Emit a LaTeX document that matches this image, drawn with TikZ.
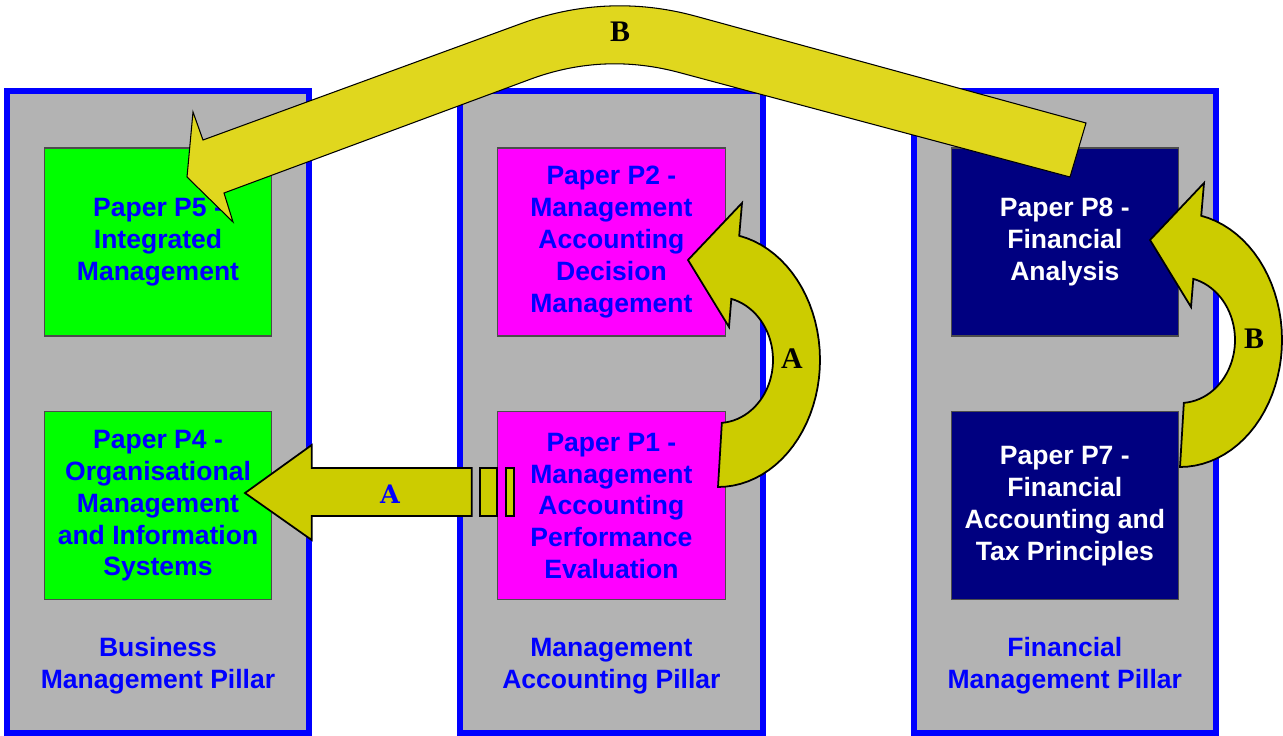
\documentclass[tikz,border=0pt]{standalone}
\usepackage{fontspec}
\setmainfont{Liberation Sans}
\newfontfamily\timesbold{Liberation Serif}
\newfontfamily\slabbold{DejaVu Serif}
\usetikzlibrary{positioning}
\usepackage{xcolor}

\definecolor{pillargray}{RGB}{179,179,179}
\definecolor{arrowolive}{RGB}{204,204,0}
\definecolor{arrowyellow}{RGB}{224,215,30}
\definecolor{papergreen}{RGB}{0,255,0}
\definecolor{papermagenta}{RGB}{255,0,255}
\definecolor{papernavy}{RGB}{0,0,128}

\begin{document}
\begin{tikzpicture}[x=0.02cm, y=-0.02cm, node distance=9.07cm, thick]

	% Define style for pillars
	\tikzstyle{pillar} = [rectangle, draw=blue, line width=3.4pt, fill=pillargray,
						minimum width=6.05cm, minimum height=12.85cm, inner sep=0pt]

	% Define style for paper boxes
	\tikzstyle{paperbox} = [rectangle, draw=black!70, line width=0.6pt,
						minimum width=4.55cm, minimum height=3.76cm, inner sep=0pt,
						align=center, font=\bfseries\fontsize{15.1}{18.1}\selectfont]
	\tikzstyle{pillarname} = [align=center, text=blue,
						font=\bfseries\fontsize{15.1}{18.1}\selectfont]

	% Define style for block arrows
	\tikzstyle{blockarrow} = [draw=black, line width=1pt, fill=arrowolive]
	\tikzstyle{arrowtext} = [font=\timesbold\bfseries\fontsize{17}{17}\selectfont]

	\useasboundingbox (0,0) rectangle (1283,736);

	% Place pillars
	\node [pillar] (bmp) at (158,411.75) {};
	\node [pillar, right of=bmp] (map) {};
	\node [pillar, right of=map] (fmp) {};

	\node [pillarname] (bmpname) at (158,666) {Business\\Management Pillar};
	\node [pillarname, right of=bmpname] (mapname) {Management\\Accounting Pillar};
	\node [pillarname, right of=mapname] (fmpname) {Financial\\Management Pillar};

	% Place papers
	\node [paperbox, fill=papergreen, text=blue] (p5) at (158,242)
		{Paper P5 -\\Integrated\\Management};
	\node [paperbox, fill=papermagenta, text=blue, right of=p5] (p2)
		{Paper P2 -\\Management\\Accounting\\Decision\\Management};
	\node [paperbox, fill=papernavy, text=white, right of=p2] (p8)
		{Paper P8 -\\Financial\\Analysis};
	\node [paperbox, fill=papergreen, text=blue, below of=p5, node distance=5.28cm] (p4)
		{Paper P4 -\\Organisational\\Management\\and Information\\Systems};
	\node [paperbox, fill=papermagenta, text=blue, right of=p4] (p1)
		{Paper P1 -\\Management\\Accounting\\Performance\\Evaluation};
	\node [paperbox, fill=papernavy, text=white, right of=p1] (p7)
		{Paper P7 -\\Financial\\Accounting and\\Tax Principles};

	% Long arrow B from P8 over the top to P5
	\filldraw [draw=black, line width=0.6pt, fill=arrowyellow]
		(1086,123) -- (695,16) .. controls (636,0) and (577,3) .. (520,24)
		-- (203,140) -- (193,112) -- (187,177) -- (233,222) -- (224,193)
		-- (531,79) .. controls (580,61) and (630,59) .. (681,73)
		-- (1070,177) -- cycle;
	\node [arrowtext] (topB) at (620,32) {B};

	% Curved arrows P1 to P2 and P7 to P8
	\foreach \cx/\cy/\name in {718/360/A, 1180/340/B} {
		\begin{scope}[shift={(\cx,\cy)}]
			\filldraw [blockarrow]
				plot [domain=-90:78, samples=40] ({102*cos(\x)}, {-127*sin(\x)})
				-- (24,-157) -- (-30,-100) -- (11,-33)
				-- plot [domain=76:-86, samples=40] ({55*cos(\x)}, {-63*sin(\x)})
				-- cycle;
			\node [arrowtext] (curve\name) at (74,-1) {\name};
		\end{scope}
	}

	% Straight arrow A from P1 to P4
	\filldraw [blockarrow]
		(471.7,468) -- (311.7,468) -- (311.7,445) -- (245,493)
		-- (311.7,540) -- (311.7,516) -- (471.7,516) -- cycle;
	\filldraw [blockarrow] (480,468) rectangle (497,516);
	\filldraw [blockarrow] (505.7,468) rectangle (514,516);
	\node [text=blue, font=\slabbold\bfseries\fontsize{14.5}{14.5}\selectfont] (straightA)
		at (390,494) {A};
\end{tikzpicture}
\end{document}
